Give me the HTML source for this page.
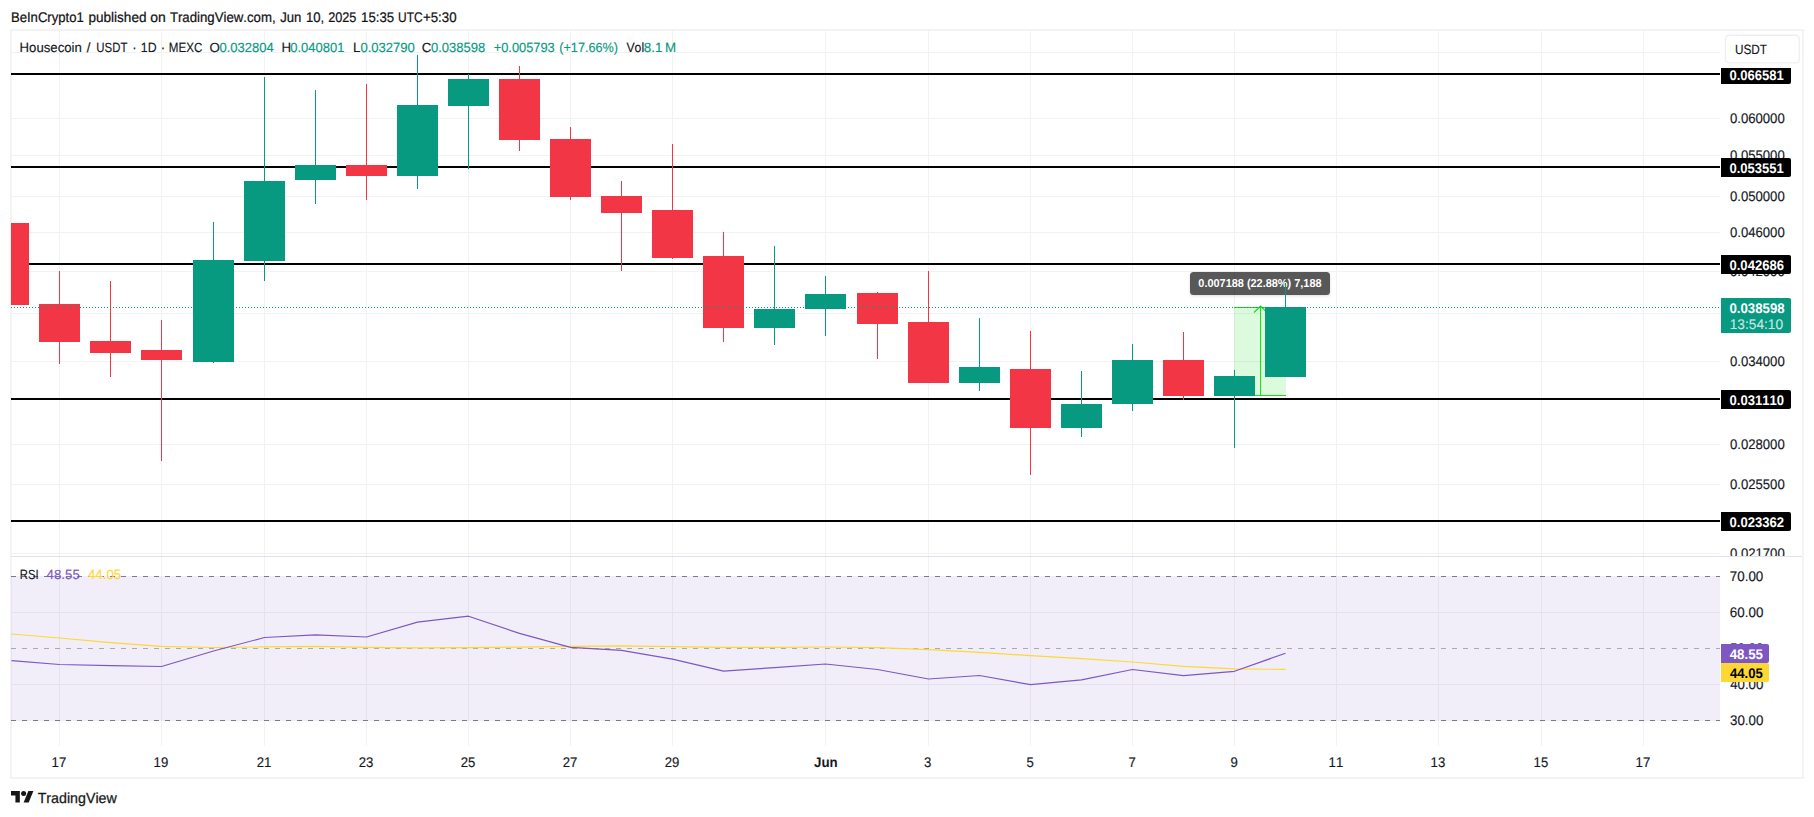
<!DOCTYPE html>
<html lang="en"><head><meta charset="utf-8"><title>Housecoin / USDT chart</title>
<style>
html,body{margin:0;padding:0;background:#fff;}
body{width:1814px;height:817px;overflow:hidden;font-family:"Liberation Sans", Arial, sans-serif;}
svg{display:block;}
svg text{white-space:pre;font-kerning:none;}
</style></head><body>
<svg width="1814" height="817" viewBox="0 0 1814 817" font-family='"Liberation Sans", Arial, sans-serif' shape-rendering="crispEdges" text-rendering="geometricPrecision">
<rect x="0" y="0" width="1814" height="817" fill="#ffffff" />
<rect x="10" y="29" width="1794" height="2" fill="#f3f3f4" />
<rect x="10" y="777" width="1794" height="2" fill="#f3f3f4" />
<rect x="10" y="29" width="2" height="750" fill="#f3f3f4" />
<rect x="1802" y="29" width="2" height="750" fill="#f3f3f4" />
<rect x="59" y="31" width="1" height="715" fill="#f1f2f4" />
<rect x="161" y="31" width="1" height="715" fill="#f1f2f4" />
<rect x="264" y="31" width="1" height="715" fill="#f1f2f4" />
<rect x="366" y="31" width="1" height="715" fill="#f1f2f4" />
<rect x="468" y="31" width="1" height="715" fill="#f1f2f4" />
<rect x="570" y="31" width="1" height="715" fill="#f1f2f4" />
<rect x="672" y="31" width="1" height="715" fill="#f1f2f4" />
<rect x="825" y="31" width="1" height="715" fill="#f1f2f4" />
<rect x="928" y="31" width="1" height="715" fill="#f1f2f4" />
<rect x="1030" y="31" width="1" height="715" fill="#f1f2f4" />
<rect x="1132" y="31" width="1" height="715" fill="#f1f2f4" />
<rect x="1234" y="31" width="1" height="715" fill="#f1f2f4" />
<rect x="1336" y="31" width="1" height="715" fill="#f1f2f4" />
<rect x="1438" y="31" width="1" height="715" fill="#f1f2f4" />
<rect x="1541" y="31" width="1" height="715" fill="#f1f2f4" />
<rect x="1643" y="31" width="1" height="715" fill="#f1f2f4" />
<rect x="11" y="52" width="1709" height="1" fill="#f1f2f4" />
<rect x="11" y="118" width="1709" height="1" fill="#f1f2f4" />
<rect x="11" y="155" width="1709" height="1" fill="#f1f2f4" />
<rect x="11" y="196" width="1709" height="1" fill="#f1f2f4" />
<rect x="11" y="232" width="1709" height="1" fill="#f1f2f4" />
<rect x="11" y="271" width="1709" height="1" fill="#f1f2f4" />
<rect x="11" y="313" width="1709" height="1" fill="#f1f2f4" />
<rect x="11" y="361" width="1709" height="1" fill="#f1f2f4" />
<rect x="11" y="444" width="1709" height="1" fill="#f1f2f4" />
<rect x="11" y="484" width="1709" height="1" fill="#f1f2f4" />
<rect x="11" y="553" width="1709" height="1" fill="#f1f2f4" />
<rect x="11" y="612" width="1709" height="1" fill="#f1f2f4" />
<rect x="11" y="684" width="1709" height="1" fill="#f1f2f4" />
<rect x="11" y="556" width="1791" height="1" fill="#e0e3eb" />
<rect x="11" y="576" width="1709" height="145" fill="rgba(126,87,194,0.1)" />
<line x1="11" y1="576.5" x2="1720" y2="576.5" stroke="#787b86" stroke-width="1" stroke-dasharray="5 6"/>
<line x1="11" y1="648.5" x2="1720" y2="648.5" stroke="rgba(120,123,134,0.6)" stroke-width="1" stroke-dasharray="5 6"/>
<line x1="11" y1="720.5" x2="1720" y2="720.5" stroke="#787b86" stroke-width="1" stroke-dasharray="5 6"/>
<polyline points="11.5,634 59.5,638 110.5,642.7 161.5,646.3 213.5,647.5 264.5,646.9 315.5,646.4 366.5,647.3 417.5,647.8 468.5,647.6 519.5,647.1 570.5,646.4 621.5,645.8 672.5,646.6 723.5,647.3 774.5,647.3 825.5,647.0 877.5,647.7 928.5,649.7 979.5,652.3 1030.5,655.6 1081.5,658.7 1132.5,662.0 1183.5,666.4 1234.5,668.9 1285.5,669.4" fill="none" stroke="#fdd835" stroke-width="1.2" stroke-linejoin="round" shape-rendering="geometricPrecision"/>
<polyline points="11.5,660.7 59.5,664.5 110.5,665.7 161.5,666.5 213.5,651.0 264.5,637.5 315.5,634.9 366.5,637.0 417.5,622.1 468.5,616.2 519.5,633.4 570.5,647.3 621.5,650.4 672.5,659.2 723.5,671.1 774.5,667.6 825.5,664.0 877.5,669.5 928.5,679.0 979.5,675.5 1030.5,684.7 1081.5,679.9 1132.5,669.5 1183.5,675.7 1234.5,671.3 1285.5,653.2" fill="none" stroke="#7e57c2" stroke-width="1.2" stroke-linejoin="round" shape-rendering="geometricPrecision"/>
<rect x="11" y="73" width="1709" height="2" fill="#000000" />
<rect x="11" y="166" width="1709" height="2" fill="#000000" />
<rect x="11" y="263" width="1709" height="2" fill="#000000" />
<rect x="11" y="398" width="1709" height="2" fill="#000000" />
<rect x="11" y="520" width="1709" height="2" fill="#000000" />
<rect x="1234" y="307" width="52" height="89" fill="rgba(22,224,22,0.15)" />
<rect x="1234" y="307" width="52" height="1" fill="#16e016" />
<rect x="1234" y="395" width="52" height="1" fill="#16e016" />
<rect x="1260" y="307" width="1" height="88" fill="#16e016" />
<polyline points="1254,312.5 1260.5,306 1267,312.5" fill="none" stroke="#16e016" stroke-width="1.2" shape-rendering="geometricPrecision"/>
<rect x="11" y="223" width="18" height="82" fill="#f23645" />
<rect x="59" y="271" width="1" height="93" fill="#f23645" />
<rect x="39" y="304" width="41" height="38" fill="#f23645" />
<rect x="110" y="281" width="1" height="96" fill="#f23645" />
<rect x="90" y="341" width="41" height="12" fill="#f23645" />
<rect x="161" y="320" width="1" height="141" fill="#f23645" />
<rect x="141" y="350" width="41" height="10" fill="#f23645" />
<rect x="213" y="222" width="1" height="141" fill="#089981" />
<rect x="193" y="260" width="41" height="102" fill="#089981" />
<rect x="264" y="77" width="1" height="204" fill="#089981" />
<rect x="244" y="181" width="41" height="80" fill="#089981" />
<rect x="315" y="90" width="1" height="114" fill="#089981" />
<rect x="295" y="165" width="41" height="15" fill="#089981" />
<rect x="366" y="84" width="1" height="116" fill="#f23645" />
<rect x="346" y="165" width="41" height="11" fill="#f23645" />
<rect x="417" y="55" width="1" height="134" fill="#089981" />
<rect x="397" y="105" width="41" height="71" fill="#089981" />
<rect x="468" y="74" width="1" height="95" fill="#089981" />
<rect x="448" y="79" width="41" height="27" fill="#089981" />
<rect x="519" y="66" width="1" height="85" fill="#f23645" />
<rect x="499" y="79" width="41" height="61" fill="#f23645" />
<rect x="570" y="127" width="1" height="73" fill="#f23645" />
<rect x="550" y="139" width="41" height="58" fill="#f23645" />
<rect x="621" y="181" width="1" height="90" fill="#f23645" />
<rect x="601" y="196" width="41" height="17" fill="#f23645" />
<rect x="672" y="144" width="1" height="115" fill="#f23645" />
<rect x="652" y="210" width="41" height="48" fill="#f23645" />
<rect x="723" y="232" width="1" height="110" fill="#f23645" />
<rect x="703" y="256" width="41" height="72" fill="#f23645" />
<rect x="774" y="246" width="1" height="99" fill="#089981" />
<rect x="754" y="309" width="41" height="19" fill="#089981" />
<rect x="825" y="276" width="1" height="60" fill="#089981" />
<rect x="805" y="294" width="41" height="15" fill="#089981" />
<rect x="877" y="292" width="1" height="67" fill="#f23645" />
<rect x="857" y="293" width="41" height="31" fill="#f23645" />
<rect x="928" y="271" width="1" height="112" fill="#f23645" />
<rect x="908" y="322" width="41" height="61" fill="#f23645" />
<rect x="979" y="318" width="1" height="73" fill="#089981" />
<rect x="959" y="367" width="41" height="16" fill="#089981" />
<rect x="1030" y="331" width="1" height="144" fill="#f23645" />
<rect x="1010" y="369" width="41" height="59" fill="#f23645" />
<rect x="1081" y="371" width="1" height="66" fill="#089981" />
<rect x="1061" y="404" width="41" height="24" fill="#089981" />
<rect x="1132" y="344" width="1" height="67" fill="#089981" />
<rect x="1112" y="360" width="41" height="44" fill="#089981" />
<rect x="1183" y="332" width="1" height="68" fill="#f23645" />
<rect x="1163" y="360" width="41" height="36" fill="#f23645" />
<rect x="1234" y="370" width="1" height="78" fill="#089981" />
<rect x="1214" y="376" width="41" height="20" fill="#089981" />
<rect x="1285" y="283" width="1" height="94" fill="#089981" />
<rect x="1265" y="307" width="41" height="70" fill="#089981" />
<line x1="11" y1="307.5" x2="1720" y2="307.5" stroke="#089981" stroke-width="1" stroke-dasharray="1 2"/>
<rect x="1190" y="272" width="140" height="23" rx="3.5" ry="3.5" fill="#595959" shape-rendering="geometricPrecision" filter="url(#sh)"/>
<rect x="1234" y="272" width="1" height="23" fill="rgba(0,0,0,0.07)" />
<text transform="translate(1198.37,286.8) scale(0.9489,1)" font-size="11.5" fill="#ffffff" font-weight="bold" >0.007188 (22.88%) 7,188</text>
<rect x="1285" y="283" width="1" height="24" fill="#089981" />
<text transform="translate(1729.99,122.7) scale(0.9372,1)" font-size="14" fill="#131722" stroke="#131722" stroke-width="0.15" >0.060000</text>
<text transform="translate(1729.99,159.7) scale(0.9372,1)" font-size="14" fill="#131722" stroke="#131722" stroke-width="0.15" >0.055000</text>
<text transform="translate(1729.99,200.7) scale(0.9372,1)" font-size="14" fill="#131722" stroke="#131722" stroke-width="0.15" >0.050000</text>
<text transform="translate(1729.99,236.7) scale(0.9372,1)" font-size="14" fill="#131722" stroke="#131722" stroke-width="0.15" >0.046000</text>
<text transform="translate(1729.99,275.7) scale(0.9372,1)" font-size="14" fill="#131722" stroke="#131722" stroke-width="0.15" >0.042000</text>
<text transform="translate(1729.99,317.7) scale(0.9372,1)" font-size="14" fill="#131722" stroke="#131722" stroke-width="0.15" >0.038000</text>
<text transform="translate(1729.99,365.7) scale(0.9372,1)" font-size="14" fill="#131722" stroke="#131722" stroke-width="0.15" >0.034000</text>
<text transform="translate(1729.99,448.7) scale(0.9372,1)" font-size="14" fill="#131722" stroke="#131722" stroke-width="0.15" >0.028000</text>
<text transform="translate(1729.99,488.7) scale(0.9372,1)" font-size="14" fill="#131722" stroke="#131722" stroke-width="0.15" >0.025500</text>
<clipPath id="cp"><rect x="1720" y="500" width="90" height="56"/></clipPath>
<g clip-path="url(#cp)">
<text transform="translate(1729.99,557.7) scale(0.9372,1)" font-size="14" fill="#131722" stroke="#131722" stroke-width="0.15" >0.021700</text>
</g>
<text transform="translate(1729.81,580.7) scale(0.9565,1)" font-size="14" fill="#131722" stroke="#131722" stroke-width="0.15" >70.00</text>
<text transform="translate(1729.82,616.7) scale(0.9563,1)" font-size="14" fill="#131722" stroke="#131722" stroke-width="0.15" >60.00</text>
<text transform="translate(1729.97,652.7) scale(0.9521,1)" font-size="14" fill="#131722" stroke="#131722" stroke-width="0.15" >50.00</text>
<text transform="translate(1730.2,688.7) scale(0.9454,1)" font-size="14" fill="#131722" stroke="#131722" stroke-width="0.15" >40.00</text>
<text transform="translate(1729.99,724.7) scale(0.9513,1)" font-size="14" fill="#131722" stroke="#131722" stroke-width="0.15" >30.00</text>
<path d="M1721,68 h70 v14 a2,2 0 0 1 -2,2 h-68 z" fill="#000" shape-rendering="geometricPrecision"/>
<text transform="translate(1729.48,79.7) scale(0.9313,1)" font-size="14" fill="#fff" font-weight="bold" >0.066581</text>
<path d="M1721,158 h68 a2,2 0 0 1 2,2 v15 a2,2 0 0 1 -2,2 h-68 z" fill="#000" shape-rendering="geometricPrecision"/>
<text transform="translate(1729.48,172.7) scale(0.9313,1)" font-size="14" fill="#fff" font-weight="bold" >0.053551</text>
<path d="M1721,255 h68 a2,2 0 0 1 2,2 v15 a2,2 0 0 1 -2,2 h-68 z" fill="#000" shape-rendering="geometricPrecision"/>
<text transform="translate(1729.48,269.7) scale(0.9331,1)" font-size="14" fill="#fff" font-weight="bold" >0.042686</text>
<path d="M1721,390 h68 a2,2 0 0 1 2,2 v15 a2,2 0 0 1 -2,2 h-68 z" fill="#000" shape-rendering="geometricPrecision"/>
<text transform="translate(1729.48,404.7) scale(0.9343,1)" font-size="14" fill="#fff" font-weight="bold" >0.031110</text>
<path d="M1721,512 h68 a2,2 0 0 1 2,2 v15 a2,2 0 0 1 -2,2 h-68 z" fill="#000" shape-rendering="geometricPrecision"/>
<text transform="translate(1729.48,526.7) scale(0.934,1)" font-size="14" fill="#fff" font-weight="bold" >0.023362</text>
<path d="M1721,298 h68 a2,2 0 0 1 2,2 v31 a2,2 0 0 1 -2,2 h-68 z" fill="#089981" shape-rendering="geometricPrecision"/>
<text transform="translate(1729.48,312.8) scale(0.9441,1)" font-size="14" fill="#fff" font-weight="bold" >0.038598</text>
<text transform="translate(1729.76,328.8) scale(0.9776,1)" font-size="14" fill="rgba(255,255,255,0.75)" stroke="rgba(255,255,255,0.75)" stroke-width="0.15" >13:54:10</text>
<path d="M1721,644 h46 a2,2 0 0 1 2,2 v15 a2,2 0 0 1 -2,2 h-46 z" fill="#7e57c2" shape-rendering="geometricPrecision"/>
<text transform="translate(1729.7,658.9) scale(0.9497,1)" font-size="14" fill="#fff" font-weight="bold" >48.55</text>
<path d="M1721,663 h46 a2,2 0 0 1 2,2 v15 a2,2 0 0 1 -2,2 h-46 z" fill="#fdd835" shape-rendering="geometricPrecision"/>
<text transform="translate(1729.9,677.8) scale(0.9381,1)" font-size="14" fill="#000" font-weight="bold" >44.05</text>
<rect x="1725.4" y="35.3" width="74" height="27.6" rx="4" ry="4" fill="#fff" stroke="#efeff1" stroke-width="1.4" shape-rendering="geometricPrecision"/>
<text transform="translate(1734.99,53.6) scale(0.8729,1)" font-size="13.5" fill="#131722" stroke="#131722" stroke-width="0.15" >USDT</text>
<text transform="translate(51.61,766.8) scale(0.94,1)" font-size="14" fill="#131722" stroke="#131722" stroke-width="0.15" >17</text>
<text transform="translate(153.59,766.8) scale(0.94,1)" font-size="14" fill="#131722" stroke="#131722" stroke-width="0.15" >19</text>
<text transform="translate(256.77,766.8) scale(0.94,1)" font-size="14" fill="#131722" stroke="#131722" stroke-width="0.15" >21</text>
<text transform="translate(358.74,766.8) scale(0.94,1)" font-size="14" fill="#131722" stroke="#131722" stroke-width="0.15" >23</text>
<text transform="translate(460.73,766.8) scale(0.94,1)" font-size="14" fill="#131722" stroke="#131722" stroke-width="0.15" >25</text>
<text transform="translate(562.78,766.8) scale(0.94,1)" font-size="14" fill="#131722" stroke="#131722" stroke-width="0.15" >27</text>
<text transform="translate(664.76,766.8) scale(0.94,1)" font-size="14" fill="#131722" stroke="#131722" stroke-width="0.15" >29</text>
<text transform="translate(923.88,766.8) scale(0.94,1)" font-size="14" fill="#131722" stroke="#131722" stroke-width="0.15" >3</text>
<text transform="translate(1026.45,766.8) scale(0.94,1)" font-size="14" fill="#131722" stroke="#131722" stroke-width="0.15" >5</text>
<text transform="translate(1128.43,766.8) scale(0.94,1)" font-size="14" fill="#131722" stroke="#131722" stroke-width="0.15" >7</text>
<text transform="translate(1230.44,766.8) scale(0.94,1)" font-size="14" fill="#131722" stroke="#131722" stroke-width="0.15" >9</text>
<text transform="translate(1328.6,766.8) scale(0.94,1)" font-size="14" fill="#131722" stroke="#131722" stroke-width="0.15" >11</text>
<text transform="translate(1430.57,766.8) scale(0.94,1)" font-size="14" fill="#131722" stroke="#131722" stroke-width="0.15" >13</text>
<text transform="translate(1533.56,766.8) scale(0.94,1)" font-size="14" fill="#131722" stroke="#131722" stroke-width="0.15" >15</text>
<text transform="translate(1635.61,766.8) scale(0.94,1)" font-size="14" fill="#131722" stroke="#131722" stroke-width="0.15" >17</text>
<text transform="translate(813.99,766.8) scale(0.95,1)" font-size="14" fill="#131722" font-weight="bold" >Jun</text>
<text transform="translate(19.52,51.7) scale(0.992,1)" font-size="13.3" fill="#131722" stroke="#131722" stroke-width="0.15" >Housecoin</text>
<text transform="translate(86.75,51.7) scale(1.0,1)" font-size="13.3" fill="#131722" stroke="#131722" stroke-width="0.15" >/</text>
<text transform="translate(96.32,51.7) scale(0.8574,1)" font-size="13.3" fill="#131722" stroke="#131722" stroke-width="0.15" >USDT</text>
<text transform="translate(132.24,51.7) scale(1.0,1)" font-size="13.3" fill="#131722" stroke="#131722" stroke-width="0.15" >·</text>
<text transform="translate(140.86,51.7) scale(0.925,1)" font-size="13.3" fill="#131722" stroke="#131722" stroke-width="0.15" >1D</text>
<text transform="translate(160.84,51.7) scale(1.0,1)" font-size="13.3" fill="#131722" stroke="#131722" stroke-width="0.15" >·</text>
<text transform="translate(168.85,51.7) scale(0.8743,1)" font-size="13.3" fill="#131722" stroke="#131722" stroke-width="0.15" >MEXC</text>
<text transform="translate(209.48,51.7) scale(1.0,1)" font-size="13.3" fill="#131722" stroke="#131722" stroke-width="0.15" >O</text>
<text transform="translate(219.49,51.7) scale(0.9787,1)" font-size="13.3" fill="#089981" stroke="#089981" stroke-width="0.15" >0.032804</text>
<text transform="translate(281.44,51.7) scale(1.0,1)" font-size="13.3" fill="#131722" stroke="#131722" stroke-width="0.15" >H</text>
<text transform="translate(290.29,51.7) scale(0.976,1)" font-size="13.3" fill="#089981" stroke="#089981" stroke-width="0.15" >0.040801</text>
<text transform="translate(352.88,51.7) scale(1.0,1)" font-size="13.3" fill="#131722" stroke="#131722" stroke-width="0.15" >L</text>
<text transform="translate(360.39,51.7) scale(0.981,1)" font-size="13.3" fill="#089981" stroke="#089981" stroke-width="0.15" >0.032790</text>
<text transform="translate(421.76,51.7) scale(1.0,1)" font-size="13.3" fill="#131722" stroke="#131722" stroke-width="0.15" >C</text>
<text transform="translate(430.89,51.7) scale(0.9802,1)" font-size="13.3" fill="#089981" stroke="#089981" stroke-width="0.15" >0.038598</text>
<text transform="translate(493.67,51.7) scale(0.966,1)" font-size="13.3" fill="#089981" stroke="#089981" stroke-width="0.15" >+0.005793</text>
<text transform="translate(559.21,51.7) scale(0.9537,1)" font-size="13.3" fill="#089981" stroke="#089981" stroke-width="0.15" >(+17.66%)</text>
<text transform="translate(626.45,51.7) scale(0.9193,1)" font-size="13.3" fill="#131722" stroke="#131722" stroke-width="0.15" >Vol</text>
<text transform="translate(643.82,51.7) scale(1.008,1)" font-size="13.3" fill="#089981" stroke="#089981" stroke-width="0.15" >8.1</text>
<text transform="translate(664.96,51.7) scale(1.0,1)" font-size="13.3" fill="#089981" stroke="#089981" stroke-width="0.15" >M</text>
<text transform="translate(19.78,578.7) scale(0.8462,1)" font-size="13.3" fill="#131722" stroke="#131722" stroke-width="0.15" >RSI</text>
<text transform="translate(46.6,578.7) scale(0.9963,1)" font-size="13.3" fill="#7e57c2" stroke="#7e57c2" stroke-width="0.15" >48.55</text>
<text transform="translate(87.89,578.7) scale(1.0025,1)" font-size="13.3" fill="#fdd835" stroke="#fdd835" stroke-width="0.15" >44.05</text>
<text transform="translate(10.93,21.6) scale(0.9357,1)" font-size="14" fill="#101012" stroke="#101012" stroke-width="0.22">BeInCrypto1</text>
<text transform="translate(88.43,21.6) scale(0.9685,1)" font-size="14" fill="#101012" stroke="#101012" stroke-width="0.22">published</text>
<text transform="translate(150.22,21.6) scale(0.9947,1)" font-size="14" fill="#101012" stroke="#101012" stroke-width="0.22">on</text>
<text transform="translate(169.9,21.6) scale(0.9433,1)" font-size="14" fill="#101012" stroke="#101012" stroke-width="0.22">TradingView.com,</text>
<text transform="translate(280.19,21.6) scale(0.942,1)" font-size="14" fill="#101012" stroke="#101012" stroke-width="0.22">Jun</text>
<text transform="translate(305.9,21.6) scale(0.9394,1)" font-size="14" fill="#101012" stroke="#101012" stroke-width="0.22">10,</text>
<text transform="translate(328.16,21.6) scale(0.9078,1)" font-size="14" fill="#101012" stroke="#101012" stroke-width="0.22">2025</text>
<text transform="translate(361.09,21.6) scale(0.9437,1)" font-size="14" fill="#101012" stroke="#101012" stroke-width="0.22">15:35</text>
<text transform="translate(398.08,21.6) scale(0.8542,1)" font-size="14" fill="#101012" stroke="#101012" stroke-width="0.22">UTC</text>
<text transform="translate(422.95,21.6) scale(0.9476,1)" font-size="14" fill="#101012" stroke="#101012" stroke-width="0.22">+5:30</text>
<g transform="translate(11,788.5) scale(0.631)" fill="#161616" shape-rendering="geometricPrecision"><path d="M14 22H7V11H0V4h14v18z"/><circle cx="20" cy="8" r="4"/><path d="M28 22h-8l7.5-18h8L28 22z"/></g>
<text transform="translate(37.68,802.6) scale(0.9746,1)" font-size="14.6" fill="#161616" stroke="#161616" stroke-width="0.25">TradingView</text>
<defs><filter id="sh" x="-10%" y="-30%" width="120%" height="180%"><feDropShadow dx="0" dy="1" stdDeviation="1.6" flood-color="#000" flood-opacity="0.13"/></filter></defs>
</svg>
</body></html>
